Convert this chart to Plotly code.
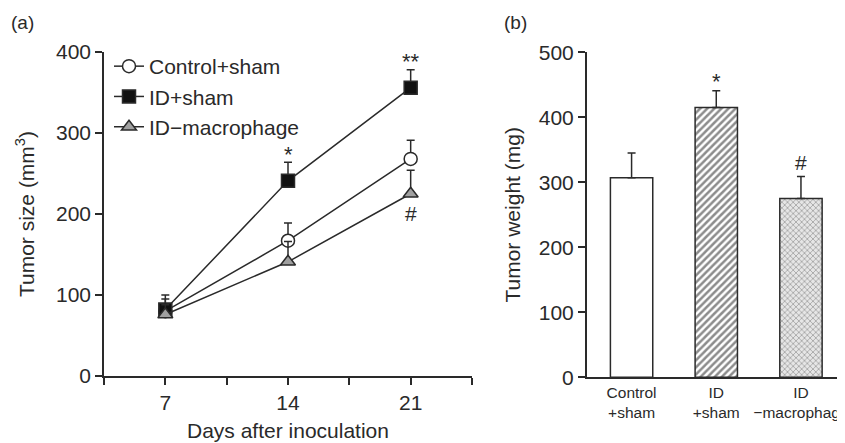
import plotly.graph_objects as go

# ---- Data (a) tumor size ----
days = [7, 14, 21]
control_sham = [80, 167, 268]
control_sham_err = [15, 22, 23]
id_sham = [82, 241, 356]
id_sham_err = [18, 23, 22]
id_mac = [76, 141, 225]
id_mac_err = [12, 25, 29]

# ---- Data (b) tumor weight ----
groups = ["Control<br>+sham", "ID<br>+sham", "ID<br>\u2212macrophage"]
weights = [307, 415, 275]
weights_err = [38, 26, 34]

FONT = "Liberation Sans, Arial, Helvetica, sans-serif"
INK = "#2a2a2a"
OFF = 8                      # default page body margin
W, H = 845 - OFF, 443 - OFF  # figure size so it fills the window


def px(x):
    return (x - OFF) / W


def py(y):
    return 1 - (y - OFF) / H


fig = go.Figure()


def line_trace(name, y, err, symbol, fill, size):
    return go.Scatter(
        x=days, y=y, name=name, mode="lines+markers",
        line=dict(color=INK, width=1.5),
        marker=dict(symbol=symbol, size=size, color=fill, line=dict(color=INK, width=1.5)),
        error_y=dict(type="data", symmetric=False, array=err, arrayminus=[0] * len(err),
                     color=INK, thickness=1.5, width=4),
        xaxis="x", yaxis="y",
    )


fig.add_trace(line_trace("Control+sham", control_sham, control_sham_err, "circle", "white", 13))
fig.add_trace(line_trace("ID+sham", id_sham, id_sham_err, "square", "#111111", 13))
fig.add_trace(line_trace("ID\u2212macrophage", id_mac, id_mac_err, "triangle-up", "#a0a0a0", 13))

patterns = [dict(shape=""),
            dict(shape="/", fgcolor="#1a1a1a", bgcolor="white", size=5, solidity=0.5),
            dict(shape="x", fgcolor="#555555", bgcolor="#e6e6e6", size=4, solidity=0.35)]
for i, g in enumerate(groups):
    fig.add_trace(go.Bar(
        x=[g], y=[weights[i]], width=0.5, showlegend=False,
        marker=dict(color="white", line=dict(color=INK, width=1.5), pattern=patterns[i]),
        error_y=dict(type="data", symmetric=False, array=[weights_err[i]], arrayminus=[0],
                     color=INK, thickness=1.5, width=4),
        xaxis="x2", yaxis="y2",
    ))

axis_common = dict(showline=True, linecolor=INK, linewidth=1.5, ticks="outside",
                   ticklen=7, tickwidth=1.5, tickcolor=INK, showgrid=False, zeroline=False,
                   automargin=False,
                   tickfont=dict(size=21, color=INK, family=FONT))

fig.update_layout(
    width=W, height=H, margin=dict(l=0, r=0, t=0, b=0, autoexpand=False),
    paper_bgcolor="white", plot_bgcolor="white",
    font=dict(family=FONT, color=INK, size=21),
    barmode="overlay",
    xaxis=dict(domain=[px(104), px(472)], range=[3.5, 24.5], tickvals=days,
               minor=dict(tickvals=[3.5, 10.5, 17.5, 24.5], ticks="outside", ticklen=7,
                          tickwidth=1.5, tickcolor=INK),
               title=dict(text="Days after inoculation", font=dict(size=21), standoff=10),
               **axis_common),
    yaxis=dict(domain=[py(376), py(52)], range=[0, 400], dtick=100,
               title=dict(text="Tumor size (mm<sup>3</sup>)", font=dict(size=21), standoff=16),
               **axis_common),
    xaxis2=dict(domain=[px(586.7), 1.0], range=[-0.53, 2.52], type="category",
                showline=True, linecolor=INK, linewidth=1.5, ticks="", showgrid=False,
                automargin=False,
                tickfont=dict(size=15.5, color=INK, family=FONT)),
    yaxis2=dict(domain=[py(377.3), py(52.3)], range=[0, 500], dtick=100,
                title=dict(text="Tumor weight (mg)", font=dict(size=21), standoff=12),
                anchor="x2", **axis_common),
    legend=dict(x=px(109), y=py(46), xanchor="left", yanchor="top",
                bgcolor="rgba(0,0,0,0)", font=dict(size=21, color=INK),
                itemwidth=30, tracegroupgap=0),
)
fig.update_layout(xaxis2_anchor="y2")

ann = [
    dict(x=14, y=274, text="*", xref="x", yref="y", font=dict(size=22)),
    dict(x=21, y=388, text="**", xref="x", yref="y", font=dict(size=22)),
    dict(x=21, y=201, text="#", xref="x", yref="y", font=dict(size=21)),
    dict(x=1, y=455, text="*", xref="x2", yref="y2", font=dict(size=22)),
    dict(x=2, y=330, text="#", xref="x2", yref="y2", font=dict(size=21)),
    dict(x=px(22), y=py(23), text="(a)", xref="paper", yref="paper", font=dict(size=19)),
    dict(x=px(515), y=py(23), text="(b)", xref="paper", yref="paper", font=dict(size=19)),
]
for a in ann:
    a.update(showarrow=False, xanchor="center", yanchor="middle")
    a["font"].update(family=FONT, color=INK)
    fig.add_annotation(**a)

fig.write_html("out.html")
